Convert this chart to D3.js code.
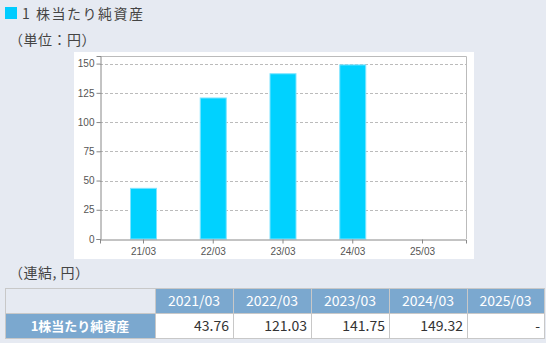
<!DOCTYPE html>
<html>
<head>
<meta charset="utf-8">
<script src="https://cdn.jsdelivr.net/npm/d3@7"></script>
<style>
  body { margin: 0; background: #e6eaf2; }
  svg { display: block; }
</style>
</head>
<body>
<svg id="chart" width="546" height="343"></svg>
<script>
// data
const categories = ["21/03", "22/03", "23/03", "24/03", "25/03"];
const yearLabels = ["2021/03", "2022/03", "2023/03", "2024/03", "2025/03"];
const values = [43.76, 121.03, 141.75, 149.32, null];
const yTicks = [0, 25, 50, 75, 100, 125, 150];
const rowLabel = "1株当たり純資産";

const jp = "'Noto Sans CJK JP', sans-serif";
const svg = d3.select("#chart");

// title
svg.append("rect").attr("x", 5).attr("y", 7).attr("width", 12).attr("height", 12).attr("fill", "#00ccff");
svg.append("text").attr("x", 22).attr("y", 19).attr("font-family", jp).attr("font-size", 14)
    .attr("letter-spacing", 1.5).attr("fill", "#444").text("1 株当たり純資産");
svg.append("text").attr("x", 9).attr("y", 45).attr("font-family", jp).attr("font-size", 14)
    .attr("letter-spacing", 0.5).attr("fill", "#444").text("（単位：円）");

// chart panel
svg.append("rect").attr("x", 74).attr("y", 52).attr("width", 400).attr("height", 207).attr("fill", "#fff");

const pL = 100, pR = 466, pT = 56, pB = 239;
const x = d3.scaleBand().domain(categories).range([pL, pR]).paddingInner(0.613).paddingOuter(0.43);
const y = d3.scaleLinear().domain([0, 156.5]).range([pB, pT]);

// grid
svg.append("g").selectAll("line").data(yTicks.slice(1)).join("line")
    .attr("x1", pL).attr("x2", pR)
    .attr("y1", d => Math.round(y(d)) + 0.5).attr("y2", d => Math.round(y(d)) + 0.5)
    .attr("stroke", "#bbb").attr("stroke-dasharray", "3,2");

// frame top/right
svg.append("path").attr("d", `M${pL},${pT + 0.5}H${pR + 0.5}V${pB}`)
    .attr("fill", "none").attr("stroke", "#bbb");

// bars
svg.append("g").selectAll("rect").data(categories.map((c, i) => ({c, v: values[i]})).filter(d => d.v != null))
    .join("rect")
    .attr("x", d => x(d.c) + 0.5).attr("width", x.bandwidth() - 1)
    .attr("y", d => y(d.v) + 0.5).attr("height", d => pB - y(d.v) - 0.5)
    .attr("fill", "#00d2ff").attr("stroke", "#7fe4ff").attr("stroke-width", 1);

// axes
const yAxis = svg.append("g").attr("transform", `translate(${pL + 0.5},0)`)
    .call(d3.axisLeft(y).tickValues(yTicks).tickSize(4).tickPadding(2));
const xAxis = svg.append("g").attr("transform", `translate(0,${pB + 0.5})`)
    .call(d3.axisBottom(x).tickSize(4).tickPadding(4));
[yAxis, xAxis].forEach(a => {
  a.select(".domain").attr("stroke", "#888");
  a.selectAll(".tick line").attr("stroke", "#888");
  a.selectAll("text").attr("font-family", "'Liberation Sans', Arial, sans-serif")
      .attr("font-size", 10).attr("fill", "#555");
});

// table
svg.append("text").attr("x", 9).attr("y", 278).attr("font-family", jp).attr("font-size", 14)
    .attr("letter-spacing", 0.5).attr("fill", "#444").text("（連結, 円）");

const colX = [5, 155, 233, 311, 389, 467, 544];
const rowY = [288, 313, 338];
const hdr = "#7ba8cf";
const g = svg.append("g");

// header row
g.append("rect").attr("x", colX[0]).attr("y", rowY[0]).attr("width", colX[1] - colX[0])
    .attr("height", rowY[1] - rowY[0]).attr("fill", "#e6eaf2");
g.selectAll(".hc").data(yearLabels).join("rect").attr("class", "hc")
    .attr("x", (d, i) => colX[i + 1]).attr("y", rowY[0])
    .attr("width", (d, i) => colX[i + 2] - colX[i + 1]).attr("height", rowY[1] - rowY[0])
    .attr("fill", hdr);
g.selectAll(".ht").data(yearLabels).join("text").attr("class", "ht")
    .attr("x", (d, i) => (colX[i + 1] + colX[i + 2]) / 2).attr("y", rowY[0] + 18)
    .attr("text-anchor", "middle").attr("font-family", jp).attr("font-size", 14)
    .attr("fill", "#fff").text(d => d);

// data row
g.append("rect").attr("x", colX[0]).attr("y", rowY[1]).attr("width", colX[1] - colX[0])
    .attr("height", rowY[2] - rowY[1]).attr("fill", hdr);
g.append("text").attr("x", (colX[0] + colX[1]) / 2).attr("y", rowY[1] + 18)
    .attr("text-anchor", "middle").attr("font-family", jp).attr("font-size", 13)
    .attr("font-weight", "bold").attr("fill", "#fff").text(rowLabel);
g.selectAll(".dc").data(values).join("rect").attr("class", "dc")
    .attr("x", (d, i) => colX[i + 1]).attr("y", rowY[1])
    .attr("width", (d, i) => colX[i + 2] - colX[i + 1]).attr("height", rowY[2] - rowY[1])
    .attr("fill", "#fff");
g.selectAll(".dt").data(values).join("text").attr("class", "dt")
    .attr("x", (d, i) => colX[i + 2] - 4).attr("y", rowY[1] + 18)
    .attr("text-anchor", "end").attr("font-family", jp).attr("font-size", 14)
    .attr("fill", "#333").text(d => d == null ? "-" : d3.format(".2f")(d));

// borders
const bc = "#c8c8c8";
rowY.forEach(yy => g.append("line").attr("x1", colX[0]).attr("x2", colX[6])
    .attr("y1", yy + 0.5).attr("y2", yy + 0.5).attr("stroke", bc));
colX.forEach(xx => g.append("line").attr("x1", xx + 0.5).attr("x2", xx + 0.5)
    .attr("y1", rowY[0]).attr("y2", rowY[2] + 1).attr("stroke", bc));
</script>
</body>
</html>
